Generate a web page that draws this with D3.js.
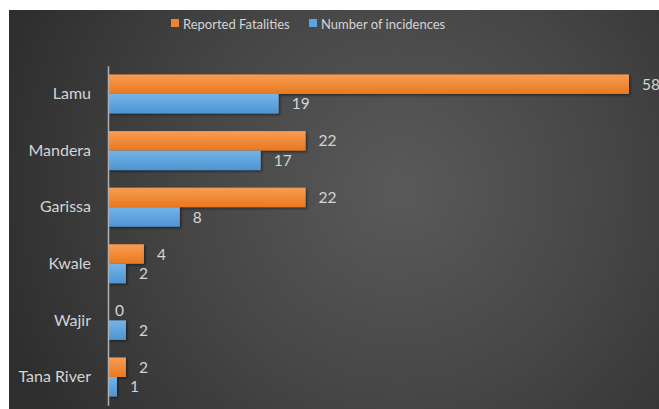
<!DOCTYPE html>
<html><head><meta charset="utf-8">
<script src="https://cdn.jsdelivr.net/npm/d3@7"></script>
<style>body{margin:0;background:#fff;}svg{display:block;font-family:Lato,"Open Sans",sans-serif;}</style>
</head><body><svg id="chart" width="659" height="409"></svg>
<script>
const categories = ["Lamu","Mandera","Garissa","Kwale","Wajir","Tana River"];
const fatalities = [58,22,22,4,0,2];
const incidences = [19,17,8,2,2,1];
const seriesNames = ["Reported Fatalities","Number of incidences"];

const svg = d3.select("#chart");
const W = 659, H = 409;
const defs = svg.append("defs");
const bg = defs.append("radialGradient").attr("id","bg").attr("gradientUnits","userSpaceOnUse")
  .attr("cx",400).attr("cy",190).attr("r",420);
bg.append("stop").attr("offset","0").attr("stop-color","#5a5a5a");
bg.append("stop").attr("offset","0.5").attr("stop-color","#464646");
bg.append("stop").attr("offset","1").attr("stop-color","#2e2e2e");
const go = defs.append("linearGradient").attr("id","go").attr("x1",0).attr("y1",0).attr("x2",0).attr("y2",1);
go.append("stop").attr("offset","0").attr("stop-color","#f79d54");
go.append("stop").attr("offset","1").attr("stop-color","#e9781f");
const gb = defs.append("linearGradient").attr("id","gb").attr("x1",0).attr("y1",0).attr("x2",0).attr("y2",1);
gb.append("stop").attr("offset","0").attr("stop-color","#74b4e8");
gb.append("stop").attr("offset","1").attr("stop-color","#4d94d2");
const sh = defs.append("filter").attr("id","sh").attr("x","-10%").attr("y","-30%").attr("width","130%").attr("height","180%");
sh.append("feDropShadow").attr("dx",1.5).attr("dy",1.5).attr("stdDeviation",1.2).attr("flood-color","#000").attr("flood-opacity",0.45);

svg.append("rect").attr("x",9).attr("y",10).attr("width",W-9).attr("height",H-10).attr("fill","url(#bg)");

const x = d3.scaleLinear().domain([0,58]).range([108,629]);
const y = d3.scaleBand().domain(categories).range([65.7,405.3]).paddingInner(0.31).paddingOuter(0.155);
const sub = d3.scaleBand().domain(seriesNames).range([0,y.bandwidth()]);
const fills = ["url(#go)","url(#gb)"];
const data = [fatalities, incidences];

seriesNames.forEach((s,si)=>{
  const g = svg.append("g");
  g.selectAll("rect").data(categories).join("rect")
    .attr("x",x(0)).attr("y",c=>y(c)+sub(s))
    .attr("width",(c,i)=>x(data[si][i])-x(0)).attr("height",sub.bandwidth())
    .attr("fill",fills[si]).attr("filter",(c,i)=>data[si][i]>0?"url(#sh)":null);
  g.selectAll("text").data(categories).join("text")
    .attr("x",(c,i)=>x(data[si][i])+(data[si][i]===0?7:13))
    .attr("y",c=>y(c)+sub(s)+sub.bandwidth()/2)
    .attr("dy","0.36em").attr("fill","#d4d4d4").attr("font-size",15.5)
    .text((c,i)=>data[si][i]);
});

const ax = svg.append("g").attr("transform",`translate(${x(0)},0)`)
  .call(d3.axisLeft(y).tickSize(0).tickPadding(17));
ax.select(".domain").attr("stroke","#b0b0b0").attr("stroke-width",1.5);
ax.selectAll("text").attr("fill","#d4d4d4").attr("font-size",16).attr("font-family","Lato,\"Open Sans\",sans-serif");

const lg = svg.append("g");
const lx = [171,309];
seriesNames.forEach((s,i)=>{
  lg.append("rect").attr("x",lx[i]).attr("y",19).attr("width",8).attr("height",8).attr("fill",i===0?"#f0832f":"#5aa3e0");
  lg.append("text").attr("x",lx[i]+12).attr("y",24).attr("dy","0.36em").attr("fill","#d4d4d4").attr("font-size",13).text(s);
});
</script></body></html>
